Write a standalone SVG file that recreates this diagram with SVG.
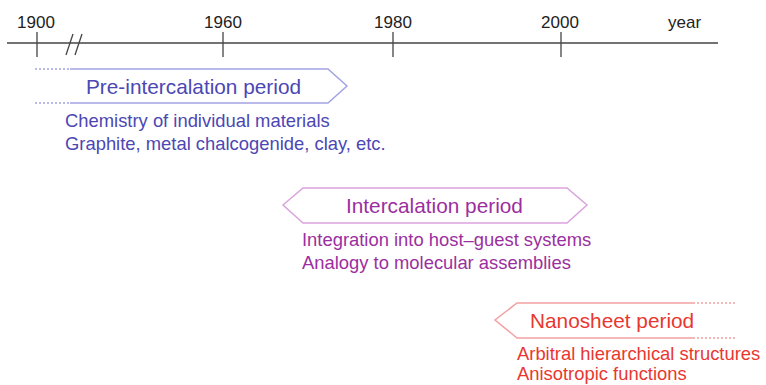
<svg xmlns="http://www.w3.org/2000/svg" width="766" height="385" viewBox="0 0 766 385">
<style>
text{font-family:"Liberation Sans",Arial,sans-serif}
.yr{font-size:17px;fill:#222}
.ax{stroke:#444;stroke-width:1.3;fill:none}
.t1{font-size:20.8px}
.b{font-size:18.4px}
.blue{fill:#4c47b3}
.purp{fill:#9b2fa0}
.red{fill:#e9372f}
.lb{stroke:#a3a3e3;stroke-width:1.5;fill:none}
.lp{stroke:#dba3de;stroke-width:1.5;fill:none}
.lr{stroke:#f2a0a0;stroke-width:1.5;fill:none}
.dash{stroke-dasharray:2 2}
</style>
<g id="axis">
<line class="ax" x1="7" y1="43" x2="718" y2="43"/>
<line class="ax" x1="37" y1="32" x2="37" y2="57"/>
<line class="ax" x1="223" y1="32" x2="223" y2="57"/>
<line class="ax" x1="393" y1="32" x2="393" y2="57"/>
<line class="ax" x1="561" y1="32" x2="561" y2="57"/>
<line class="ax" x1="73" y1="34" x2="66" y2="55" stroke-width="1"/>
<line class="ax" x1="82" y1="34" x2="75" y2="55" stroke-width="1"/>
<text class="yr" x="36" y="28" text-anchor="middle">1900</text>
<text class="yr" x="223" y="28" text-anchor="middle">1960</text>
<text class="yr" x="393" y="28" text-anchor="middle">1980</text>
<text class="yr" x="560" y="28" text-anchor="middle">2000</text>
<text class="yr" x="668" y="28">year</text>
</g>
<g id="pre-intercalation">
<polyline class="lb" points="70,69 328,69 347,86 328,103 70,103"/>
<line class="lb dash" x1="35" y1="69" x2="70" y2="69"/>
<line class="lb dash" x1="35" y1="103" x2="70" y2="103"/>
<text class="t1 blue" x="86" y="94">Pre-intercalation period</text>
<text class="b blue" x="65" y="127">Chemistry of individual materials</text>
<text class="b blue" x="65" y="150">Graphite, metal chalcogenide, clay, etc.</text>
</g>
<g id="intercalation">
<polygon class="lp" points="283,205 303,188 567,188 587,205 567,223 303,223"/>
<text class="t1 purp" x="346" y="213">Intercalation period</text>
<text class="b purp" x="302" y="246">Integration into host–guest systems</text>
<text class="b purp" x="302" y="269">Analogy to molecular assemblies</text>
</g>
<g id="nanosheet">
<polyline class="lr" points="693,303 517,303 495,320 517,338 693,338"/>
<line class="lr dash" x1="693" y1="303" x2="735" y2="303"/>
<line class="lr dash" x1="693" y1="338" x2="735" y2="338"/>
<text class="t1 red" x="530" y="328">Nanosheet period</text>
<text class="b red" x="517" y="360">Arbitral hierarchical structures</text>
<text class="b red" x="517" y="380">Anisotropic functions</text>
</g>
<g id="connectors"/>
</svg>
